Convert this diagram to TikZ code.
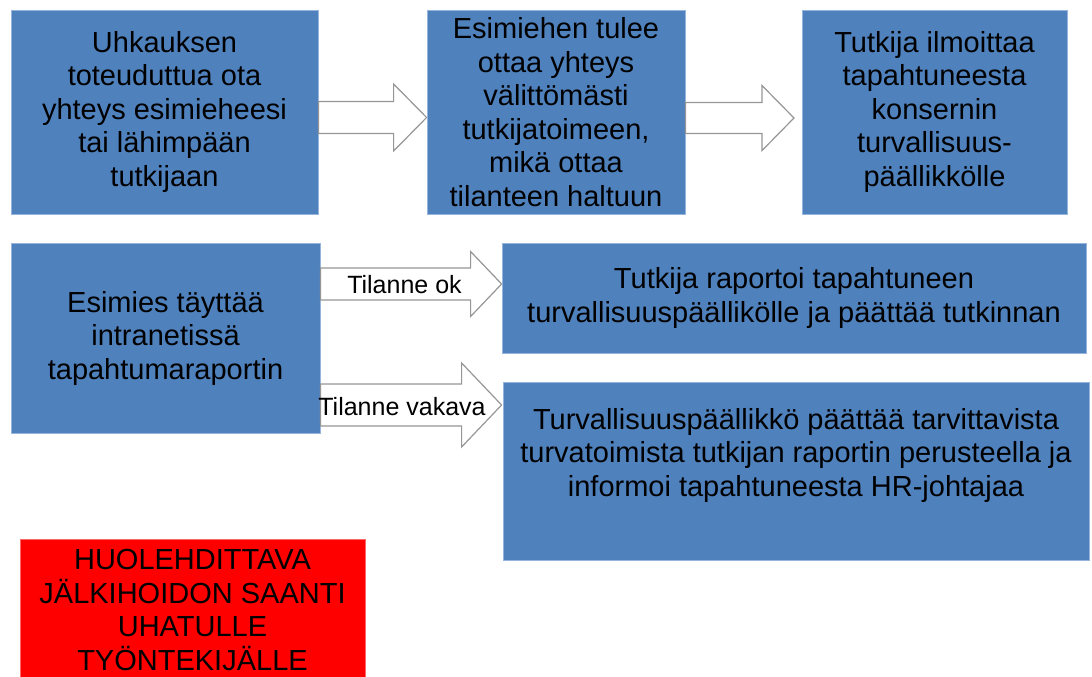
\documentclass[tikz,border=0pt]{standalone}
\usepackage{fontspec}
\setmainfont{Liberation Sans}
\usetikzlibrary{calc}

\definecolor{boxblue}{RGB}{79,129,189}
\definecolor{boxedge}{RGB}{150,180,220}
\definecolor{arrowgray}{RGB}{150,150,150}

\tikzset{
  box/.style={rectangle, fill=boxblue, draw=boxedge, line width=0.8pt,
    align=center, inner sep=0pt, font={\fontsize{29}{33.5}\selectfont}},
  alertbox/.style={box, fill=red, draw=red!60!white},
  boxtext/.style={align=center, inner sep=0pt, font={\fontsize{29}{33.5}\selectfont}},
  arrowline/.style={draw=arrowgray, fill=white, line width=1.2pt, line join=miter},
  arrowlabel/.style={anchor=base, inner sep=0pt, font={\fontsize{25}{28}\selectfont}}
}

% lohkonuoli: alku, karki, varren puolileveys, kannan puolileveys, karjen pituus
\newcommand{\blockarrow}[5]{%
  \draw[arrowline] ($(#1)+(0,-#3)$) -- ($(#2)+(-#5,-#3)$) -- ($(#2)+(-#5,-#4)$)
    -- (#2) -- ($(#2)+(-#5,#4)$) -- ($(#2)+(-#5,#3)$) -- ($(#1)+(0,#3)$) -- cycle;}

\begin{document}
\begin{tikzpicture}[x=1pt, y=-1pt]
    \useasboundingbox (0,0) rectangle (1092,677);

    % Ylarivi
    \node[box, minimum width=307, minimum height=204] (b1) at (164.5,112)
        {Uhkauksen\\toteuduttua ota\\yhteys esimieheesi\\tai lähimpään\\tutkijaan};
    \node[box, minimum width=258, minimum height=204] (b2) at (556,112)
        {Esimiehen tulee\\ottaa yhteys\\välittömästi\\tutkijatoimeen,\\mikä ottaa\\tilanteen haltuun};
    \node[box, minimum width=265, minimum height=204] (b3) at (934.5,112)
        {Tutkija ilmoittaa\\tapahtuneesta\\konsernin\\turvallisuus-\\päällikkölle};

    % Nuolet ylarivissa
    \coordinate (k1) at (b2.west |- 0,117.5);
    \coordinate (k2) at (794,118);
    \blockarrow{b1.east |- k1}{k1}{16}{33.5}{33}
    \blockarrow{b2.east |- k2}{k2}{15.5}{32.5}{32}

    % Alarivi
    \node[box, minimum width=309, minimum height=190] (b4) at (165.5,338)
        {Esimies täyttää\\intranetissä\\tapahtumaraportin};
    \node[box, minimum width=584, minimum height=110] (b5) at (794,298)
        {Tutkija raportoi tapahtuneen\\turvallisuuspäällikölle ja päättää tutkinnan};
    \node[box, minimum width=586, minimum height=178] (b6) at (796,471) {};
    \node[boxtext] (b6t) at (796,455)
        {Turvallisuuspäällikkö päättää tarvittavista\\turvatoimista tutkijan raportin perusteella ja\\informoi tapahtuneesta HR-johtajaa};

    % Nuolet alarivissa
    \coordinate (k3) at (b5.west |- 0,284);
    \coordinate (k4) at (b5.west |- 0,405);
    \blockarrow{b4.east |- k3}{k3}{16}{32.5}{31}
    \blockarrow{b4.east |- k4}{k4}{21}{42}{40}
    \node[arrowlabel] (ok) at (404.5,293) {Tilanne ok};
    \node[arrowlabel] (vakava) at (402,415) {Tilanne vakava};

    % Jalkihoito
    \node[alertbox, minimum width=345, minimum height=142] (hoito) at (192.5,610)
        {HUOLEHDITTAVA\\JÄLKIHOIDON SAANTI\\UHATULLE\\TYÖNTEKIJÄLLE};
\end{tikzpicture}
\end{document}
